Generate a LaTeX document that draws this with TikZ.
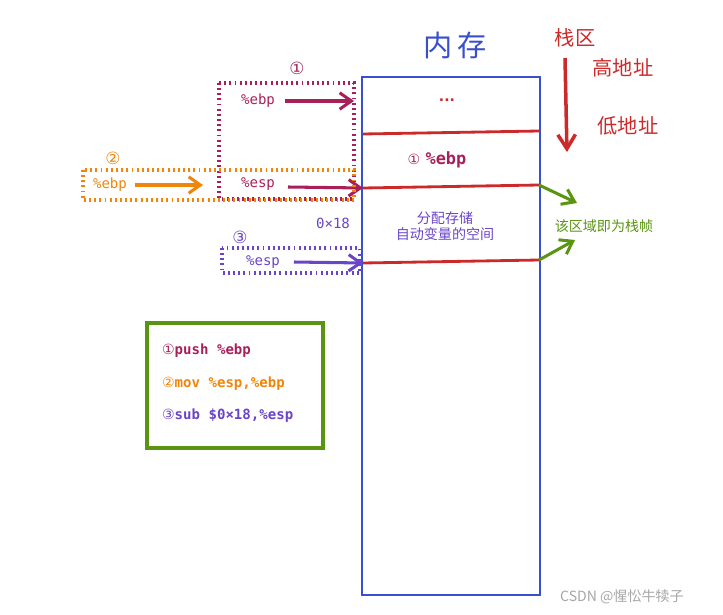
\documentclass[tikz,border=0pt]{standalone}
\usepackage{fontspec}
\setmainfont{DejaVu Sans}
\setmonofont{DejaVu Sans Mono}
\newfontfamily\cjk{Noto Sans CJK SC}
\newcommand{\cn}[1]{{\rmfamily\mdseries #1}}
\usetikzlibrary{arrows.meta}
\definecolor{mem}{HTML}{3A4FCB}
\definecolor{rl}{HTML}{CC2A2A}
\definecolor{mar}{HTML}{A8205A}
\definecolor{org}{HTML}{F0850A}
\definecolor{pur}{HTML}{6A45C8}
\definecolor{grn}{HTML}{5A9410}
\begin{document}
\begin{tikzpicture}[x=0.03cm,y=-0.03cm,
 dbox/.style={line width=2.6pt,dash pattern=on 1.6pt off 2.8pt},
 arr/.style={line width=2.6pt,-{Straight Barb[length=10pt,width=14pt,line width=2.6pt]}},
 lbl/.style={font=\ttfamily\large},
 cj/.style={font=\cjk}]
\useasboundingbox (0,0) rectangle (723,615);
% memory
\draw[mem,line width=2.2pt] (362,77) rectangle (540,595);
\node[mem,font=\cjk\Huge\itshape\mdseries] (title) at (455,45) {内\,存};
\draw[rl,line width=2.4pt] (363,134) -- (539,131);
\draw[rl,line width=2.4pt] (363,188) coordinate (l2) -- (539,185) coordinate (r2);
\draw[rl,line width=2.4pt] (363,263) coordinate (l3) -- (539,260) coordinate (r3);
\node[rl,font=\large\bfseries] (dots) at (447,100) {...};
\node[mar,font=\Large] (ebpc) at (437,160) {{\large ①} \texttt{\bfseries \%ebp}};
\node[pur,font=\cjk\large,align=center] (auto) at (445,226) {分配存储\\自动变量的空间};
% stack zone
\node[rl,font=\cjk\LARGE] (zq) at (575,38) {栈区};
\node[rl,font=\cjk\LARGE] (hi) at (623,68) {高地址};
\node[rl,font=\cjk\LARGE] (lo) at (628,126) {低地址};
\coordinate (za) at (565,58); \coordinate (zb) at (567,152);
\draw[rl,line width=3pt,-{Straight Barb[length=12pt,width=15pt,line width=3pt]}] (za) -- (zb);
% green
\node[grn,font=\cjk\large] (frame) at (604,226) {该区域即为栈帧};
\draw[grn,arr] (r2) -- (577,203);
\draw[grn,arr] (r3) -- (575,240);
% box1
\draw[mar,dbox] (219,83) rectangle (354,199);
\node[mar,font=\Large] (c1) at (297,68) {①};
\node[mar,lbl] (e1) at (258,101) {\%ebp};
\coordinate (t1) at (354,101);
\draw[mar,arr] (285,101) -- (t1);
\node[mar,lbl] (s1) at (258,184) {\%esp};
\draw[mar,arr] (288,187) -- (l2);
% box2
\draw[org,dbox] (83,170) rectangle (354,200);
\node[org,font=\Large] (c2) at (113,158) {②};
\node[org,lbl] (e2) at (110,185) {\%ebp};
\coordinate (t2) at (203,185);
\draw[org,arr] (135,185) -- (t2);
\node[pur,lbl] (hex) at (333,223) {0×18};
% box3
\draw[pur,dbox] (222,248) rectangle (360,273);
\node[pur,font=\Large] (c3) at (240,237) {③};
\node[pur,lbl] (s3) at (263,262) {\%esp};
\draw[pur,arr] (294,262) -- (l3);
% code box
\draw[grn,line width=2.8pt] (147,323) rectangle (323,448);
\node[mar,font=\ttfamily\bfseries\large,anchor=west] (i1) at (158,351) {\cn{①}push \%ebp};
\node[org,font=\ttfamily\bfseries\large,anchor=west] (i2) at (158,384) {\cn{②}mov \%esp,\%ebp};
\node[pur,font=\ttfamily\bfseries\large,anchor=west] (i3) at (158,416) {\cn{③}sub \$0×18,\%esp};
\node[gray!70,font=\cjk\large] (wm) at (622,597) {CSDN @惺忪牛犊子};
\end{tikzpicture}
\end{document}
